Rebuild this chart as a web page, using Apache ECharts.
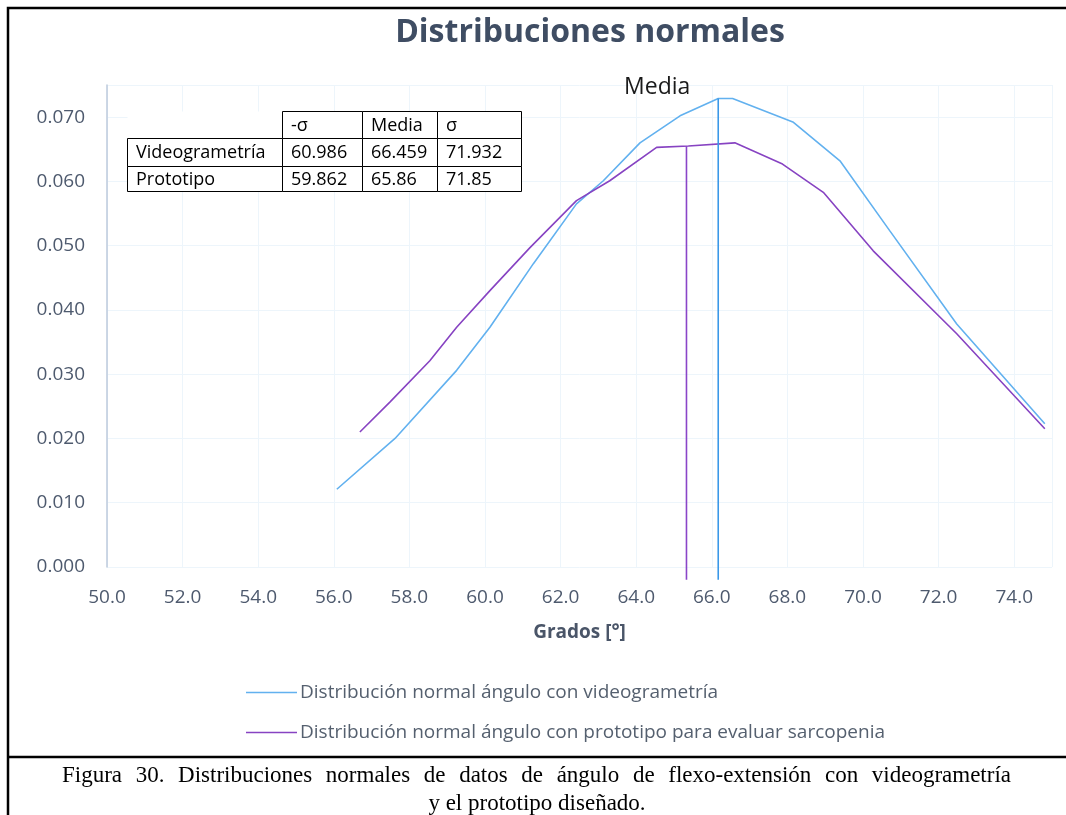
<!DOCTYPE html>
<html>
<head>
<meta charset="utf-8">
<title>Distribuciones normales</title>
<script src="https://cdn.jsdelivr.net/npm/echarts@6/dist/echarts.min.js"></script>
<style>
    html, body { margin: 0; padding: 0; background: #ffffff; }
    #main { width: 1066px; height: 815px; }
</style>
</head>
<body>
<div id="main"></div>
<script>
// curva normal - videogrametria
var videoX = [56.08, 57.62, 59.25, 60.13, 61.28, 62.42, 63.13, 64.10, 65.16, 66.17, 66.55, 68.16, 69.39, 70.71, 72.48, 74.81];
var videoY = [0.0121, 0.0200, 0.0306, 0.0373, 0.0472, 0.0565, 0.0601, 0.0660, 0.0702, 0.0729, 0.0729, 0.0692, 0.0632, 0.0523, 0.0378, 0.0223];

// curva normal - prototipo
var protoX = [56.69, 57.49, 58.54, 59.25, 60.13, 61.19, 62.42, 63.30, 64.54, 65.38, 66.61, 67.87, 68.95, 70.27, 72.48, 74.81];
var protoY = [0.0210, 0.0257, 0.0321, 0.0373, 0.0430, 0.0497, 0.0570, 0.0601, 0.0653, 0.0655, 0.0660, 0.0627, 0.0583, 0.0492, 0.0363, 0.0215];

// lineas verticales de la media
var videoMeanX = [66.17, 66.17];
var videoMeanY = [0.0729, -0.002];
var protoMeanX = [65.33, 65.33];
var protoMeanY = [0.0655, -0.002];

var seriesNames = [
    'Distribución normal ángulo con videogrametría',
    'Distribución normal ángulo con prototipo para evaluar sarcopenia'
];

// tabla
var tableHeader = ['', '-σ', 'Media', 'σ'];
var tableRows = [
    ['Videogrametría', '60.986', '66.459', '71.932'],
    ['Prototipo', '59.862', '65.86', '71.85']
];

var captionLines = [
    'Figura 30. Distribuciones normales de datos de ángulo de flexo-extensión con videogrametría',
    'y el prototipo diseñado.'
];

var FONT = '"Open Sans", "Noto Sans", sans-serif';
var SERIF = '23px "Liberation Serif", serif';

function pairs(xs, ys) {
    return xs.map(function (x, i) {
        return [x, ys[i]];
    });
}

function buildTable() {
    var colX = [127, 282, 362, 437, 521];
    var rowY = [111, 138, 166, 191];
    var children = [];
    var rows = [tableHeader].concat(tableRows);
    rows.forEach(function (row, r) {
        row.forEach(function (txt, c) {
            var noBorder = (r === 0 && c === 0);
            children.push({
                type: 'rect',
                shape: {
                    x: colX[c] + 0.5,
                    y: rowY[r] + 0.5,
                    width: colX[c + 1] - colX[c],
                    height: rowY[r + 1] - rowY[r]
                },
                style: {
                    fill: '#ffffff',
                    stroke: noBorder ? null : '#000000',
                    lineWidth: 1
                },
                z: noBorder ? 9 : 10
            });
            children.push({
                type: 'text',
                x: colX[c] + 9,
                y: (rowY[r] + rowY[r + 1]) / 2 + 1,
                style: {
                    text: txt,
                    font: '18px ' + FONT,
                    fill: '#000000',
                    verticalAlign: 'middle'
                },
                z: 11
            });
        });
    });
    return children;
}

// primera linea del pie justificada entre dos bordes
function justifiedLine(text, left, right, y) {
    var ctx = document.createElement('canvas').getContext('2d');
    ctx.font = SERIF;
    var words = text.split(' ');
    var widths = words.map(function (w) {
        return ctx.measureText(w).width;
    });
    var total = widths.reduce(function (a, b) { return a + b; }, 0);
    var gap = (right - left - total) / (words.length - 1);
    var x = left;
    return words.map(function (w, i) {
        var el = {
            type: 'text',
            x: x,
            y: y,
            style: {
                text: w,
                font: SERIF,
                fill: '#000000',
                verticalAlign: 'middle'
            }
        };
        x += widths[i] + gap;
        return el;
    });
}

var chart = echarts.init(document.getElementById('main'));

var option = {
    backgroundColor: '#ffffff',
    animation: false,
    grid: {
        left: 107,
        right: 14,
        top: 85,
        bottom: 248
    },
    legend: {
        orient: 'vertical',
        left: 241,
        top: 678,
        data: seriesNames,
        icon: 'rect',
        itemWidth: 51,
        itemHeight: 1.6,
        itemGap: 21,
        textStyle: {
            fontFamily: FONT,
            fontSize: 19,
            color: '#55606f',
            padding: [0, 0, 0, -2]
        }
    },
    xAxis: {
        type: 'value',
        min: 50,
        max: 75,
        interval: 2,
        name: 'Grados [°]',
        nameLocation: 'middle',
        nameGap: 56,
        nameTextStyle: {
            fontFamily: FONT,
            fontSize: 19,
            fontWeight: 'bold',
            color: '#4a5568'
        },
        axisLine: { show: false },
        axisTick: { show: false },
        axisLabel: {
            margin: 21,
            showMaxLabel: false,
            fontFamily: FONT,
            fontSize: 19,
            color: '#4e5a6e',
            formatter: function (v) {
                return v.toFixed(1);
            }
        },
        splitLine: {
            lineStyle: { color: '#edf5fb', width: 1 }
        }
    },
    yAxis: {
        type: 'value',
        min: 0,
        max: 0.075,
        interval: 0.01,
        axisLine: {
            show: true,
            lineStyle: { color: '#bccadd', width: 1.5 }
        },
        axisTick: { show: false },
        axisLabel: {
            margin: 22,
            showMaxLabel: false,
            fontFamily: FONT,
            fontSize: 19,
            color: '#4e5a6e',
            formatter: function (v) {
                return v.toFixed(3);
            }
        },
        splitLine: {
            lineStyle: { color: '#edf5fb', width: 1 }
        }
    },
    series: [
        {
            name: seriesNames[0],
            type: 'line',
            symbol: 'none',
            data: pairs(videoX, videoY),
            itemStyle: { color: '#62b1ef' },
            lineStyle: { color: '#62b1ef', width: 1.6 },
            z: 3
        },
        {
            name: seriesNames[1],
            type: 'line',
            symbol: 'none',
            data: pairs(protoX, protoY),
            itemStyle: { color: '#8743c2' },
            lineStyle: { color: '#8743c2', width: 1.6 },
            z: 3
        },
        {
            name: 'Media videogrametría',
            type: 'line',
            symbol: 'circle',
            symbolSize: 0,
            showSymbol: true,
            clip: false,
            data: pairs(videoMeanX, videoMeanY).map(function (p, i) {
                if (i === 0) {
                    return {
                        value: p,
                        label: {
                            show: true,
                            position: 'top',
                            distance: 0,
                            offset: [-61, 0],
                            formatter: 'Media',
                            fontFamily: FONT,
                            fontSize: 23,
                            color: '#1a1a1a'
                        }
                    };
                }
                return p;
            }),
            itemStyle: { color: '#3a98e8' },
            lineStyle: { color: '#3a98e8', width: 1.6 },
            z: 4
        },
        {
            name: 'Media prototipo',
            type: 'line',
            symbol: 'none',
            clip: false,
            data: pairs(protoMeanX, protoMeanY),
            itemStyle: { color: '#8a45c8' },
            lineStyle: { color: '#8a45c8', width: 1.6 },
            z: 4
        }
    ],
    graphic: [
        {
            type: 'text',
            x: 590,
            y: 33,
            style: {
                text: 'Distribuciones normales',
                font: 'bold 32px ' + FONT,
                fill: '#3f4d63',
                align: 'center',
                verticalAlign: 'middle'
            }
        },
        {
            type: 'group',
            children: buildTable()
        },
        {
            type: 'rect',
            shape: { x: 8, y: 8, width: 1070, height: 830 },
            style: { fill: null, stroke: '#000000', lineWidth: 2.5 },
            z: 20
        },
        {
            type: 'line',
            shape: { x1: 8, y1: 757, x2: 1070, y2: 757 },
            style: { stroke: '#000000', lineWidth: 2.5 },
            z: 20
        },
        {
            type: 'group',
            children: justifiedLine(captionLines[0], 62, 1011, 776)
        },
        {
            type: 'text',
            x: 537,
            y: 804,
            style: {
                text: captionLines[1],
                font: SERIF,
                fill: '#000000',
                align: 'center',
                verticalAlign: 'middle'
            }
        }
    ]
};

chart.setOption(option);
</script>
</body>
</html>
